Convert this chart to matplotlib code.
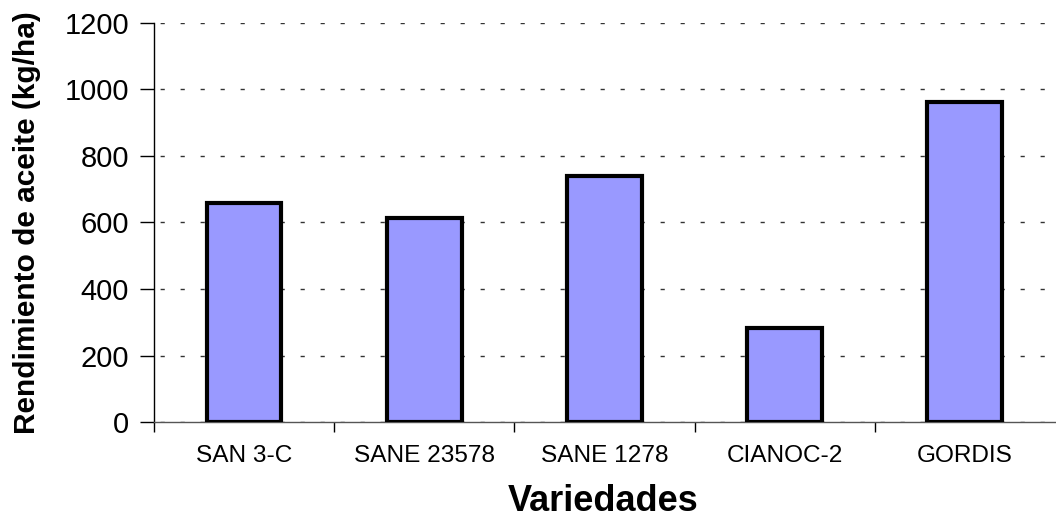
import matplotlib; matplotlib.use('Agg')
import matplotlib.pyplot as plt
import numpy as np

plt.rcParams['font.family'] = ['Liberation Sans', 'DejaVu Sans']

variedades = ['SAN 3-C', 'SANE 23578', 'SANE 1278', 'CIANOC-2', 'GORDIS']
rendimiento = [659, 614, 740, 284, 962]
yticks = [0, 200, 400, 600, 800, 1000, 1200]

fig = plt.figure(figsize=(10.56, 5.19), dpi=100)
ax = fig.add_axes([0.1458, 0.1863, 0.8532, 0.77])

x = np.arange(len(variedades))
ax.bar(x, rendimiento, width=0.415, color='#9999ff', edgecolor='black', linewidth=3, zorder=3)

ax.set_xlim(-0.5, len(variedades) - 0.5)
ax.set_ylim(0, 1200)
ax.set_yticks(yticks)
ax.tick_params(axis='y', labelsize=21, length=10, width=1, direction='out', pad=8)
ax.yaxis.grid(True, linestyle=(10, (3, 11.4)), color='#333333', linewidth=1, zorder=0)

# category labels in the middle, tick marks on the boundaries
ax.set_xticks(x)
ax.set_xticklabels(variedades, fontsize=17.6)
ax.tick_params(axis='x', which='major', length=0, pad=16)
ax.set_xticks(np.arange(len(variedades)) - 0.5, minor=True)
ax.tick_params(axis='x', which='minor', length=7, width=1, direction='out')

for s in ['top', 'right']:
    ax.spines[s].set_visible(False)
ax.spines['left'].set_linewidth(1)
ax.spines['bottom'].set_linewidth(1)
ax.spines['bottom'].set_color('#555555')

ax.set_ylabel('Rendimiento de aceite (kg/ha)', fontsize=21.5, fontweight='bold')
ax.yaxis.set_label_coords(-0.125, 0.5)
ax.set_xlabel('Variedades', fontsize=26, fontweight='bold')
ax.xaxis.set_label_coords(0.498, -0.155)

plt.savefig('out.png', dpi=100)
plt.close()
